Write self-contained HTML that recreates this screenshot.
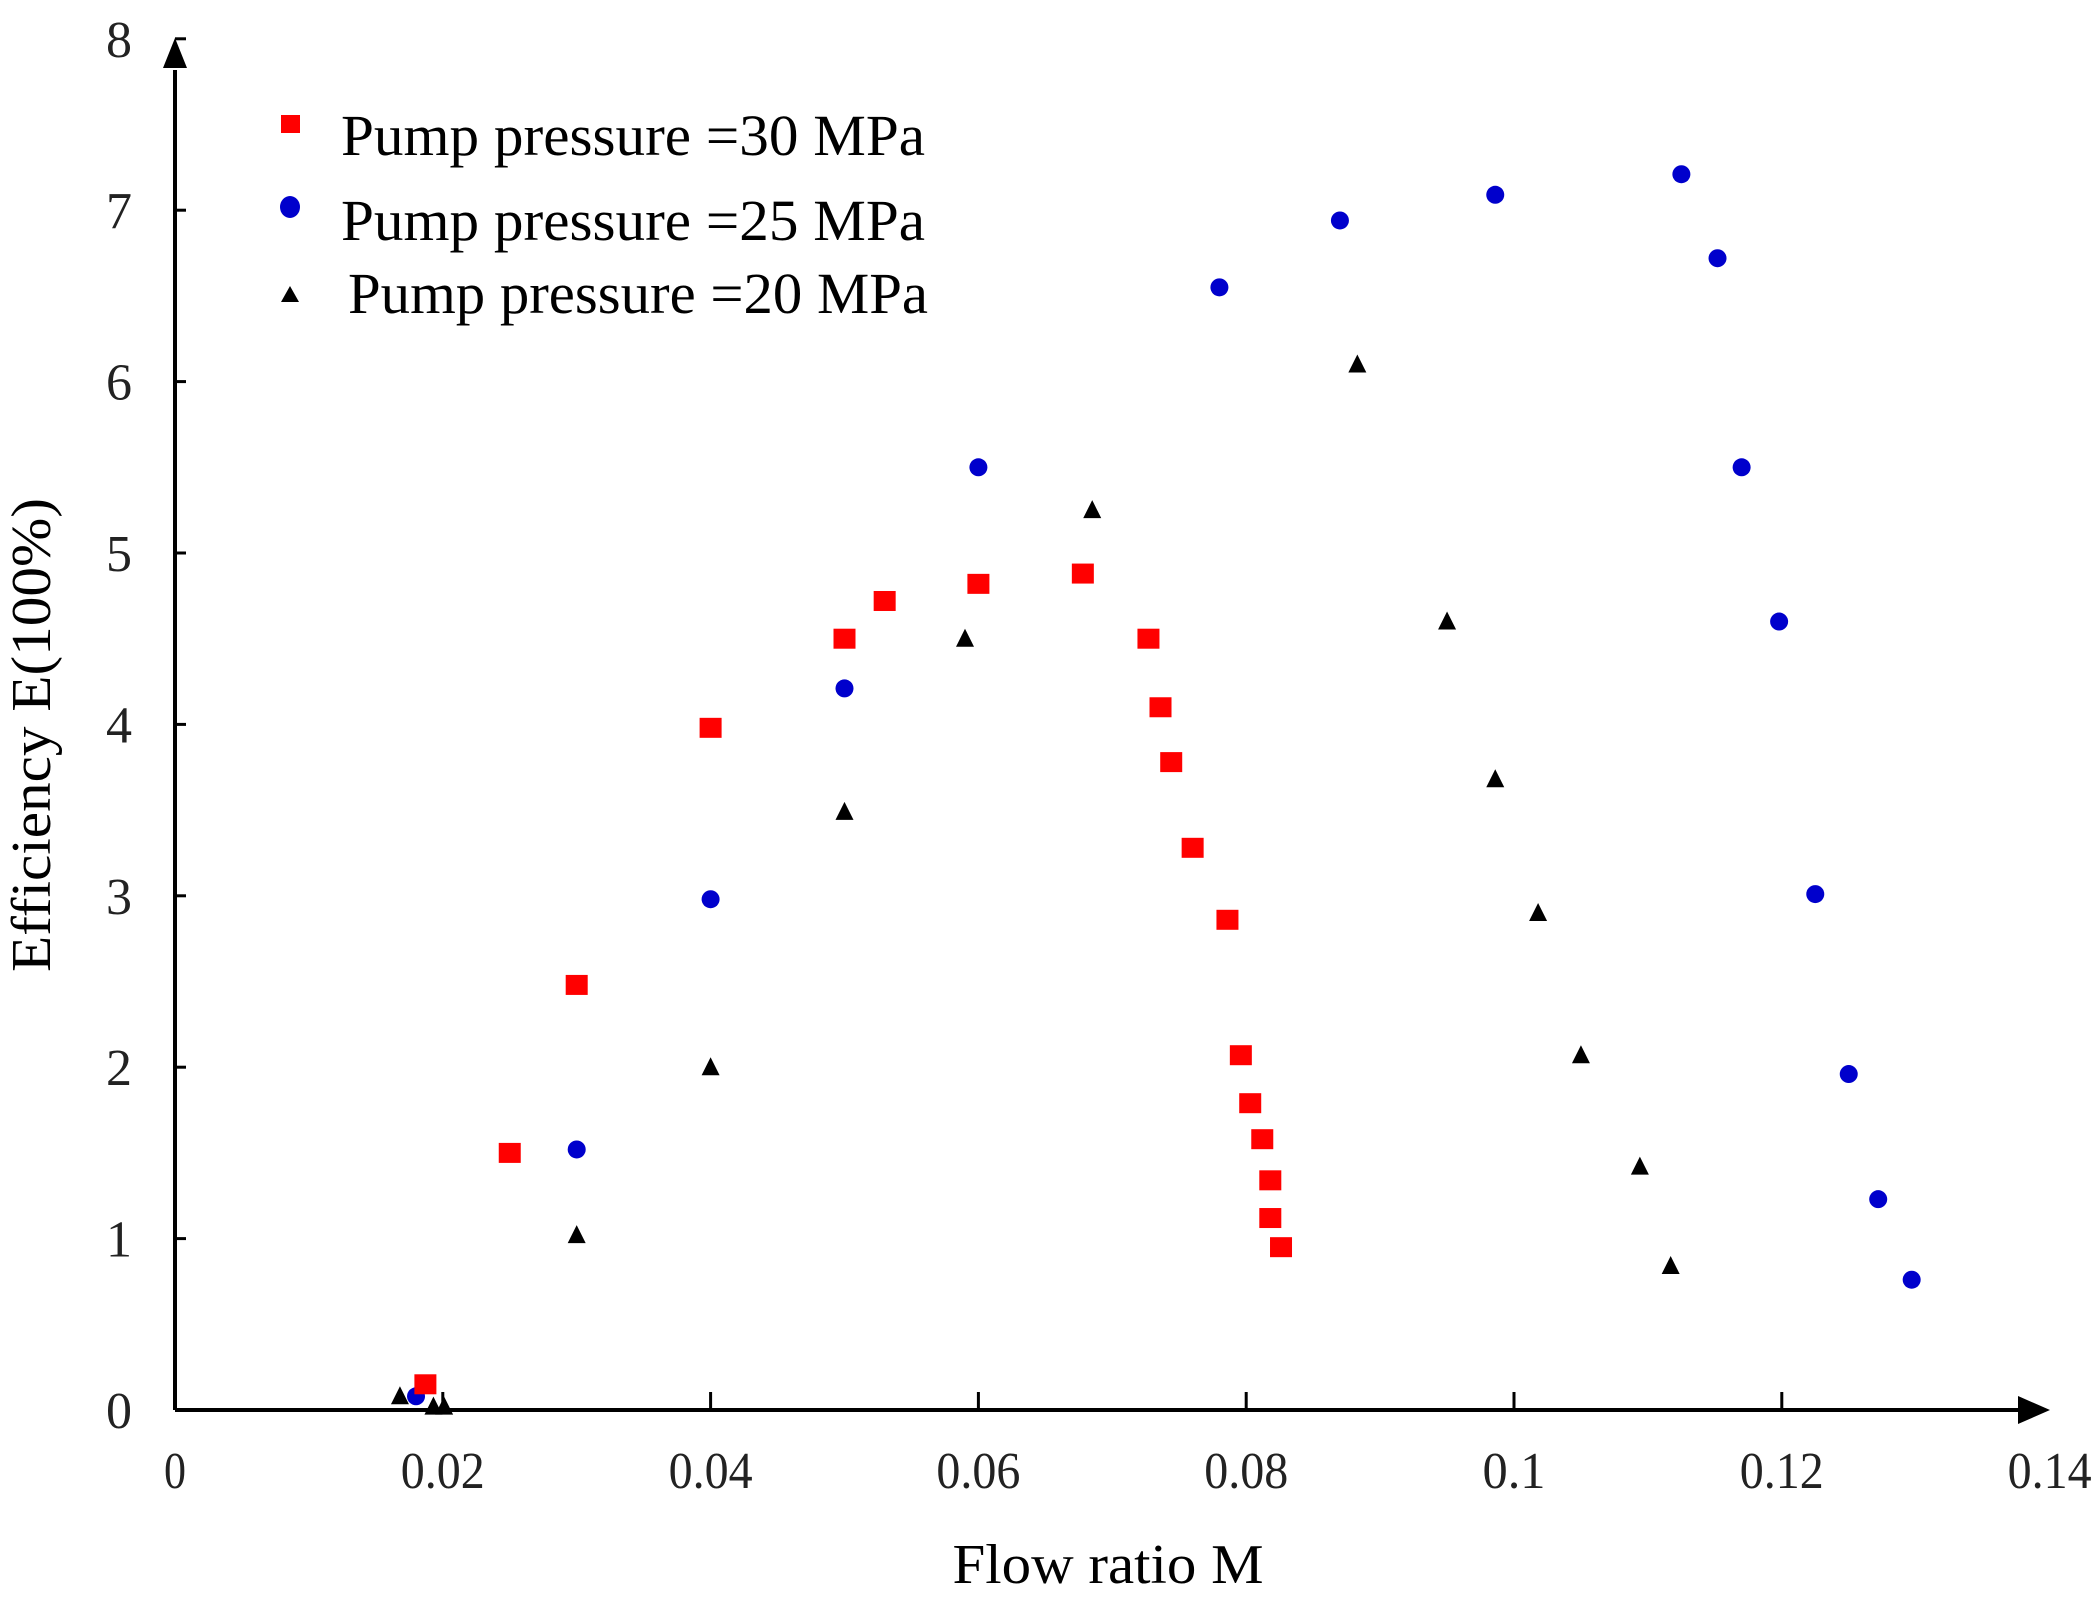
<!DOCTYPE html>
<html><head><meta charset="utf-8"><style>html,body{margin:0;padding:0;background:#fff}svg{display:block}</style></head><body>
<svg width="2095" height="1608" viewBox="0 0 2095 1608" xmlns="http://www.w3.org/2000/svg" font-family="'Liberation Serif', serif">
<rect width="2095" height="1608" fill="#fff"/>
<g id="axes" stroke="#000" stroke-width="4">
<line x1="175" y1="1410" x2="2020" y2="1410"/>
<line x1="175" y1="1410" x2="175" y2="70"/>
</g>
<polygon points="2050,1410 2018,1396 2018,1424" fill="#000"/>
<polygon points="175,38 163,68 187,68" fill="#000"/>
<g stroke="#000" stroke-width="3" id="xt"></g>
<g stroke="#000" stroke-width="3" id="yt"></g>
<g font-size="52" fill="#222" id="xl" text-anchor="middle"></g>
<g font-size="52" fill="#222" id="yl" text-anchor="end"></g>
<text x="1108" y="1583" font-size="56" text-anchor="middle" textLength="311" lengthAdjust="spacingAndGlyphs">Flow ratio M</text>
<text transform="translate(50,735) rotate(-90)" font-size="56" text-anchor="middle" textLength="474" lengthAdjust="spacingAndGlyphs">Efficiency E(100%)</text>
<rect x="281" y="115" width="19" height="18" fill="#f00"/>
<ellipse cx="290" cy="207" rx="10" ry="11" fill="#00c"/>
<polygon points="290,286 281,302 299,302" fill="#000"/>
<text x="341" y="155" font-size="58" textLength="584" lengthAdjust="spacingAndGlyphs">Pump pressure =30  MPa</text>
<text x="341" y="240" font-size="58" textLength="584" lengthAdjust="spacingAndGlyphs">Pump pressure =25  MPa</text>
<text x="348" y="313" font-size="58" textLength="580" lengthAdjust="spacingAndGlyphs">Pump pressure =20  MPa</text>
<g id="pts"></g>
</svg>
<script>
var NS="http://www.w3.org/2000/svg";
function X(m){return 175+m/0.02*267.8}
function Y(e){return 1410-e*171.4}
function el(p,t,a,txt){var e=document.createElementNS(NS,t);for(var k in a)e.setAttribute(k,a[k]);if(txt!=null)e.textContent=txt;document.getElementById(p).appendChild(e);return e}
var xl=["0","0.02","0.04","0.06","0.08","0.1","0.12","0.14"];
for(var i=0;i<8;i++){var x=175+i*267.8;if(i>0&&i<7)el("xt","line",{x1:x,y1:1410,x2:x,y2:1392});el("xl","text",{x:x,y:1488,textLength:i==0?22:(xl[i].length*21),lengthAdjust:"spacingAndGlyphs"},xl[i]);}
for(var j=0;j<=8;j++){var y=Y(j);if(j>0)el("yt","line",{x1:175,y1:y,x2:186,y2:y});el("yl","text",{x:132,y:y+18},""+j);}
var R=[[0.0187,0.15],[0.025,1.5],[0.03,2.48],[0.04,3.98],[0.05,4.5],[0.053,4.72],[0.06,4.82],[0.0678,4.88],[0.0727,4.5],[0.0736,4.1],[0.0744,3.78],[0.076,3.28],[0.0786,2.86],[0.0796,2.07],[0.0803,1.79],[0.0812,1.58],[0.0818,1.34],[0.0818,1.12],[0.0826,0.95]];
var B=[[0.018,0.08],[0.03,1.52],[0.04,2.98],[0.05,4.21],[0.06,5.5],[0.078,6.55],[0.087,6.94],[0.0986,7.09],[0.1125,7.21],[0.1152,6.72],[0.117,5.5],[0.1198,4.6],[0.1225,3.01],[0.125,1.96],[0.1272,1.23],[0.1297,0.76]];
var K=[[0.0168,0.08],[0.0193,0.02],[0.0201,0.02],[0.03,1.02],[0.04,2.0],[0.05,3.49],[0.059,4.5],[0.0685,5.25],[0.0883,6.1],[0.095,4.6],[0.0986,3.68],[0.1018,2.9],[0.105,2.07],[0.1094,1.42],[0.1117,0.84]];
K.forEach(function(p){var x=X(p[0]),y=Y(p[1]);el("pts","polygon",{points:(x)+","+(y-10)+" "+(x-9)+","+(y+8)+" "+(x+9)+","+(y+8),fill:"#000"})});
B.forEach(function(p){el("pts","ellipse",{cx:X(p[0]),cy:Y(p[1]),rx:9,ry:9,fill:"#00c"})});
R.forEach(function(p){el("pts","rect",{x:X(p[0])-11,y:Y(p[1])-10,width:22,height:20,fill:"#f00"})});
</script>
</body></html>
